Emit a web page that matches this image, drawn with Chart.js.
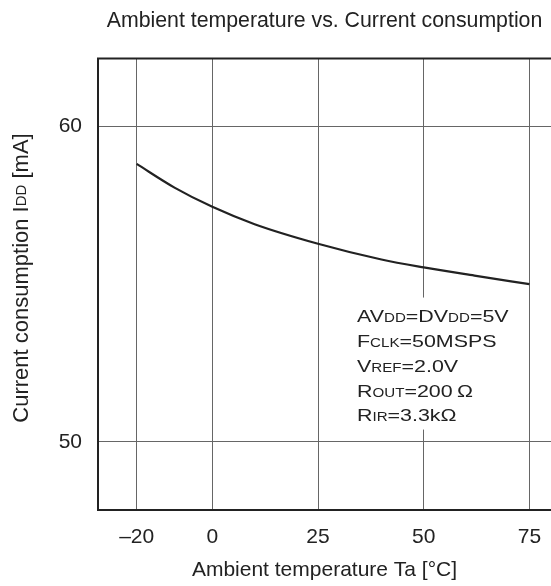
<!DOCTYPE html>
<html>
<head>
<meta charset="utf-8">
<script src="https://cdn.jsdelivr.net/npm/chart.js@4.4.1/dist/chart.umd.min.js"></script>
<style>
  body { margin: 0; background: #fff; }
  .wrap { width: 551px; height: 586px; position: relative; }
</style>
</head>
<body>
<div class="wrap"><canvas id="tempChart"></canvas></div>
<script>
// Values
const tempC = [-20, -10, 0, 10, 25, 40, 50, 62, 75];
const currentMA = [58.81, 58.06, 57.45, 56.90, 56.28, 55.78, 55.53, 55.27, 55.0];

const xTicks = [-20, 0, 25, 50, 75];
const xTickLabels = ['\u201320', '0', '25', '50', '75'];
const yTicks = [50, 60];
const yTickLabels = ['50', '60'];

// '_' toggles between normal and small-caps size
const condLines = [
    'AV_DD_=DV_DD_=5V',
    'F_CLK_=50MSPS',
    'V_REF_=2.0V',
    'R_OUT_=200\u2009\u03A9',
    'R_IR_=3.3k\u03A9'
];
const yTitle = 'Current consumption I_DD_ [mA]';

const FONT = '"Liberation Sans", Arial, sans-serif';
const INK = '#222';

// The datasheet squeezes the -20..0 span a little compared to the rest
const squeeze = 0.895;
class BentScale extends Chart.LinearScale {
    static id = 'bent';
    static defaults = Chart.LinearScale.defaults;
    getPixelForValue(v) {
        if (v === null || v === undefined) return NaN;
        return super.getPixelForValue(v < 0 ? v * squeeze : v);
    }
    getValueForPixel(p) {
        const u = super.getValueForPixel(p);
        return u < 0 ? u / squeeze : u;
    }
}
Chart.register(BentScale);

function drawMixed(ctx, text, x, y, big, small, centered) {
    const parts = text.split('_');
    const widths = parts.map((p, i) => {
        ctx.font = (i % 2 ? small : big) + 'px ' + FONT;
        return ctx.measureText(p).width;
    });
    const total = widths.reduce((a, b) => a + b, 0);
    let cx = centered ? x - total / 2 : x;
    parts.forEach((p, i) => {
        ctx.font = (i % 2 ? small : big) + 'px ' + FONT;
        ctx.fillText(p, cx, y);
        cx += widths[i];
    });
}

const extras = {
    id: 'extras',
    afterDraw(chart) {
        const ctx = chart.ctx;
        const a = chart.chartArea;
        ctx.save();

        // top frame line
        ctx.strokeStyle = INK;
        ctx.lineWidth = 2;
        ctx.beginPath();
        ctx.moveTo(a.left - 1, a.top);
        ctx.lineTo(a.right, a.top);
        ctx.stroke();

        // conditions box
        ctx.fillStyle = '#fff';
        ctx.fillRect(a.left + 252, a.top + 239, 165, 132);
        ctx.fillStyle = INK;
        ctx.textBaseline = 'alphabetic';
        condLines.forEach((line, i) => {
            ctx.save();
            ctx.translate(a.left + 259, a.top + 263.7 + i * 24.8);
            ctx.scale(1.26, 1);
            drawMixed(ctx, line, 0, 0, 17, 12, false);
            ctx.restore();
        });

        // y axis title
        ctx.save();
        ctx.translate(22, 278);
        ctx.rotate(-Math.PI / 2);
        ctx.textBaseline = 'middle';
        drawMixed(ctx, yTitle, 0, 0, 22, 15, true);
        ctx.restore();

        ctx.restore();
    }
};

const ctx = document.getElementById('tempChart').getContext('2d');
const tempChart = new Chart(ctx, {
    type: 'line',
    data: {
        datasets: [{
            data: tempC.map((t, i) => ({ x: t, y: currentMA[i] })),
            borderColor: INK,
            borderWidth: 2.2,
            pointRadius: 0,
            fill: false,
            cubicInterpolationMode: 'monotone'
        }]
    },
    options: {
        responsive: true,
        maintainAspectRatio: false,
        animation: false,
        layout: { padding: 0 },
        plugins: {
            legend: { display: false },
            tooltip: { enabled: false },
            title: {
                display: true,
                text: 'Ambient temperature vs. Current consumption',
                fullSize: false,
                color: INK,
                font: { family: FONT, size: 21.3, weight: 'normal' },
                padding: { top: 8, bottom: 25 }
            }
        },
        scales: {
            x: {
                type: 'bent',
                min: -27.04,
                max: 80.1,
                afterBuildTicks: s => { s.ticks = xTicks.map(v => ({ value: v })); },
                afterFit: s => { s.height = 76; s.paddingLeft = 0; s.paddingRight = 0; },
                ticks: {
                    autoSkip: false,
                    maxRotation: 0,
                    padding: 15,
                    color: INK,
                    font: { family: FONT, size: 21 },
                    callback: (v, i) => xTickLabels[i]
                },
                grid: { color: '#666', lineWidth: 1, drawTicks: false },
                border: { color: INK, width: 2 },
                title: {
                    display: true,
                    text: 'Ambient temperature Ta [\u00B0C]',
                    color: INK,
                    font: { family: FONT, size: 21 },
                    padding: { top: 0, bottom: 3 }
                }
            },
            y: {
                min: 47.84,
                max: 62.15,
                afterBuildTicks: s => { s.ticks = yTicks.map(v => ({ value: v })); },
                afterFit: s => { s.width = 98; s.paddingTop = 0; s.paddingBottom = 0; },
                ticks: {
                    autoSkip: false,
                    padding: 16,
                    color: INK,
                    font: { family: FONT, size: 21 },
                    callback: (v, i) => yTickLabels[i]
                },
                grid: { color: '#666', lineWidth: 1, drawTicks: false },
                border: { color: INK, width: 2 }
            }
        }
    },
    plugins: [extras]
});
</script>
</body>
</html>
